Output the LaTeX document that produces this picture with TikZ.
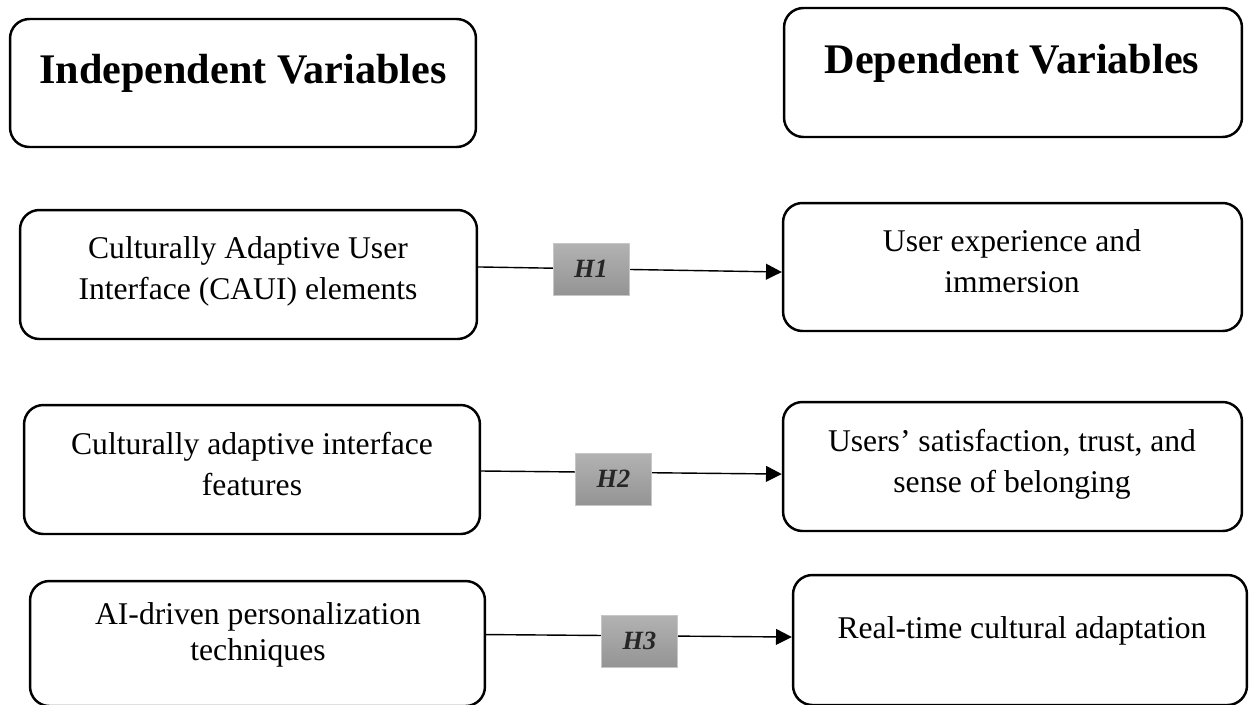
\documentclass[tikz,border=0pt]{standalone}
\usepackage{fontspec}
\setmainfont{Liberation Serif}
\usetikzlibrary{arrows.meta}
\tikzset{varbox/.style={draw, line width=1.4pt, rounded corners=11pt, inner sep=0pt},
         headtext/.style={font=\fontsize{24}{28}\selectfont\bfseries, anchor=base, inner sep=0pt},
         vartext/.style={font=\fontsize{18}{23.3}\selectfont, align=center, anchor=base, inner sep=0pt},
         hyplabel/.style={draw=black!22, top color=black!30, bottom color=black!42,
                          minimum width=1.52cm, minimum height=1.04cm, inner sep=0pt,
                          font=\fontsize{15}{17}\selectfont\bfseries\itshape, text=black!85},
         hyparrow/.style={-{Triangle[length=9pt,width=9pt]}, line width=0.8pt}}

\begin{document}
\begin{tikzpicture}[x=0.02cm, y=-0.02cm]

\useasboundingbox (0,0) rectangle (1250,704);

% headings
\node[varbox, minimum width=9.32cm, minimum height=2.56cm] (indep) at (243,83) {};
\node[headtext] (indeptext) at (243,83) {Independent Variables};
\node[varbox, minimum width=9.16cm, minimum height=2.58cm] (dep) at (1013,72.5) {};
\node[headtext] (deptext) at (1012,73) {Dependent Variables};

% independent variables (base = last line)
\node[varbox, minimum width=9.14cm, minimum height=2.58cm] (caui) at (248.5,274.5) {};
\node[vartext] (cauitext) at (248,299) {Culturally Adaptive User\\Interface (CAUI) elements};
\node[varbox, minimum width=9.12cm, minimum height=2.58cm] (feat) at (252,469.5) {};
\node[vartext] (feattext) at (252,495) {Culturally adaptive interface\\features};
\node[varbox, minimum width=9.1cm, minimum height=2.5cm] (pers) at (257.5,643.5) {};
\node[vartext, font=\fontsize{18}{20}\selectfont] (perstext) at (258,660) {AI-driven personalization\\techniques};

% dependent variables
\node[varbox, minimum width=9.18cm, minimum height=2.56cm] (ux) at (1012.5,267) {};
\node[vartext] (uxtext) at (1012,292) {User experience and\\immersion};
\node[varbox, minimum width=9.18cm, minimum height=2.58cm] (sat) at (1012.5,466.5) {};
\node[vartext] (sattext) at (1012,492) {Users’ satisfaction, trust, and\\sense of belonging};
\node[varbox, minimum width=9.08cm, minimum height=2.6cm] (adapt) at (1020,640) {};
\node[vartext] (adapttext) at (1022,638) {Real-time cultural adaptation};

% edges
\draw[hyparrow] ([yshift=4.3pt]caui.east) -- ([yshift=-2.85pt]ux.west);
\draw[hyparrow] ([yshift=-0.85pt]feat.east) -- ([yshift=-4.3pt]sat.west);
\draw[hyparrow] ([yshift=5.1pt]pers.east) -- ([yshift=1.7pt]adapt.west);

% hypotheses
\node[hyplabel] (h1) at (591,269) {H1};
\node[hyplabel] (h2) at (613.5,479) {H2};
\node[hyplabel] (h3) at (639.5,641) {H3};

\end{tikzpicture}
\end{document}
